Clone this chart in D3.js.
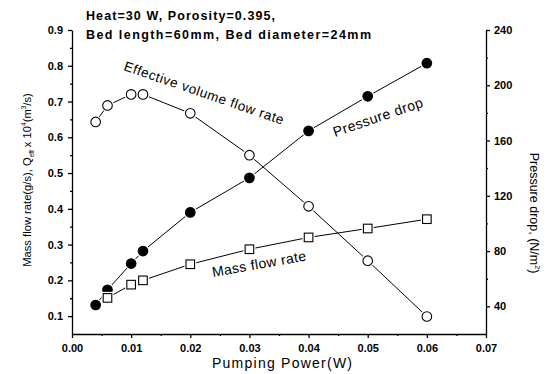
<!DOCTYPE html>
<html>
<head>
<meta charset="utf-8">
<script src="https://cdn.jsdelivr.net/npm/d3@7"></script>
<style>
  body { margin: 0; background: #fff; }
  svg { font-family: "Liberation Sans", Arial, sans-serif; }
  .tick text { font-size: 11px; font-weight: bold; fill: #000; }
  .domain, .tick line { stroke: #000; stroke-width: 1.3; }
</style>
</head>
<body>
<svg width="555" height="374"></svg>
<script>
// Daten
const power = [0.004, 0.006, 0.010, 0.012, 0.02, 0.03, 0.04, 0.05, 0.06];
const pressureDrop = [41, 52, 71, 80, 108, 133, 167, 192, 216];
const effFlow = [0.643, 0.689, 0.72, 0.72, 0.667, 0.55, 0.407, 0.255, 0.099];
const powerMass = [0.006, 0.010, 0.012, 0.02, 0.03, 0.04, 0.05, 0.06];
const massFlow = [0.151, 0.188, 0.2, 0.245, 0.287, 0.32, 0.345, 0.371];

const xTicks = [0, 0.01, 0.02, 0.03, 0.04, 0.05, 0.06, 0.07];
const leftTicks = [0.1, 0.2, 0.3, 0.4, 0.5, 0.6, 0.7, 0.8, 0.9];
const rightTicks = [40, 80, 120, 160, 200, 240];

const width = 555, height = 374;
const x0 = 72, x1 = 486, y0 = 334, y1 = 30;

const svg = d3.select("svg");

const xScale = d3.scaleLinear().domain([0, 0.07]).range([x0, x1]);
const yLeft = d3.scaleLinear().domain([0.05, 0.9]).range([y0, y1]);
const yRight = d3.scaleLinear().domain([20, 240]).range([y0, y1]);

// Achsen mit Nebenstrichen
function minor(axis, vals, g) {
    g.append("g").call(axis.tickValues(vals).tickSize(2).tickFormat(""))
        .select(".domain").remove();
}

const gx = svg.append("g").attr("transform", `translate(0,${y0})`);
gx.call(d3.axisBottom(xScale).tickValues(xTicks).tickSize(4).tickSizeOuter(0)
    .tickPadding(6).tickFormat(d3.format(".2f")));
minor(d3.axisBottom(xScale), d3.range(0.005, 0.07, 0.01), gx);

const gl = svg.append("g").attr("transform", `translate(${x0},0)`);
gl.call(d3.axisLeft(yLeft).tickValues(leftTicks).tickSize(4).tickSizeOuter(0)
    .tickPadding(5).tickFormat(d3.format(".1f")));
minor(d3.axisLeft(yLeft), d3.range(0.15, 0.9, 0.1), gl);

const gr = svg.append("g").attr("transform", `translate(${x1},0)`);
gr.call(d3.axisRight(yRight).tickValues(rightTicks).tickSize(4).tickSizeOuter(0)
    .tickPadding(4));
minor(d3.axisRight(yRight), d3.range(60, 240, 40), gr);

// Linien
const pressPts = power.map((p, i) => [xScale(p), yRight(pressureDrop[i])]);
const effPts = power.map((p, i) => [xScale(p), yLeft(effFlow[i])]);
const massPts = powerMass.map((p, i) => [xScale(p), yLeft(massFlow[i])]);

const line = d3.line();
[pressPts, effPts, massPts].forEach(pts => {
    svg.append("path").attr("d", line(pts))
        .attr("fill", "none").attr("stroke", "#000").attr("stroke-width", 1);
});

// Marker mit weissem Rand (Lücke zur Linie)
function circles(pts, fill) {
    svg.append("g").selectAll("circle").data(pts).enter().append("circle")
        .attr("cx", d => d[0]).attr("cy", d => d[1]).attr("r", 6.5)
        .attr("fill", "#fff");
    svg.append("g").selectAll("circle").data(pts).enter().append("circle")
        .attr("cx", d => d[0]).attr("cy", d => d[1]).attr("r", 4.8)
        .attr("fill", fill).attr("stroke", "#000").attr("stroke-width", 1.1);
}
circles(effPts, "#fff");
circles(pressPts, "#000");

svg.append("g").selectAll("rect").data(massPts).enter().append("rect")
    .attr("x", d => d[0] - 6).attr("y", d => d[1] - 6).attr("width", 12).attr("height", 12)
    .attr("fill", "#fff");
svg.append("g").selectAll("rect").data(massPts).enter().append("rect")
    .attr("x", d => d[0] - 4.3).attr("y", d => d[1] - 4.3).attr("width", 8.6).attr("height", 8.6)
    .attr("fill", "#fff").attr("stroke", "#000").attr("stroke-width", 1.1);

// Kopfzeile
svg.append("text").attr("x", 86).attr("y", 20)
    .attr("font-size", 12.5).attr("font-weight", "bold")
    .attr("textLength", 189).attr("lengthAdjust", "spacing")
    .text("Heat=30 W, Porosity=0.395,");
svg.append("text").attr("x", 86).attr("y", 39)
    .attr("font-size", 12.5).attr("font-weight", "bold")
    .attr("textLength", 285).attr("lengthAdjust", "spacing")
    .text("Bed length=60mm, Bed diameter=24mm");

// Kurvenbeschriftungen
svg.append("text").attr("transform", "translate(123,70) rotate(19)")
    .attr("font-size", 13.5).attr("textLength", 168).attr("lengthAdjust", "spacing")
    .text("Effective volume flow rate");
svg.append("text").attr("transform", "translate(335,137) rotate(-19)")
    .attr("font-size", 14).attr("textLength", 94).attr("lengthAdjust", "spacing")
    .text("Pressure drop");
svg.append("text").attr("transform", "translate(213,277) rotate(-10)")
    .attr("font-size", 14).attr("textLength", 95).attr("lengthAdjust", "spacing")
    .text("Mass flow rate");

// Achsentitel
svg.append("text").attr("x", 282).attr("y", 368)
    .attr("text-anchor", "middle").attr("font-size", 14)
    .attr("textLength", 140).attr("lengthAdjust", "spacing")
    .text("Pumping Power(W)");

const yl = svg.append("text").attr("transform", "translate(31,180) rotate(-90)")
    .attr("text-anchor", "middle").attr("font-size", 11.2);
yl.append("tspan").text("Mass flow rate(g/s),  Q");
yl.append("tspan").attr("font-size", 6.5).attr("dy", 3).text("eff");
yl.append("tspan").attr("dy", -3).text(" x 10");
yl.append("tspan").attr("font-size", 6.5).attr("dy", -5).text("4");
yl.append("tspan").attr("dy", 5).text("(m");
yl.append("tspan").attr("font-size", 6.5).attr("dy", -5).text("3");
yl.append("tspan").attr("dy", 5).text("/s)");

const yr = svg.append("text").attr("transform", "translate(530,213) rotate(90)")
    .attr("text-anchor", "middle").attr("font-size", 12.5);
yr.append("tspan").text("Pressure drop, (N/m");
yr.append("tspan").attr("font-size", 7).attr("dy", -5).text("2");
yr.append("tspan").attr("dy", 5).text(")");
</script>
</body>
</html>
